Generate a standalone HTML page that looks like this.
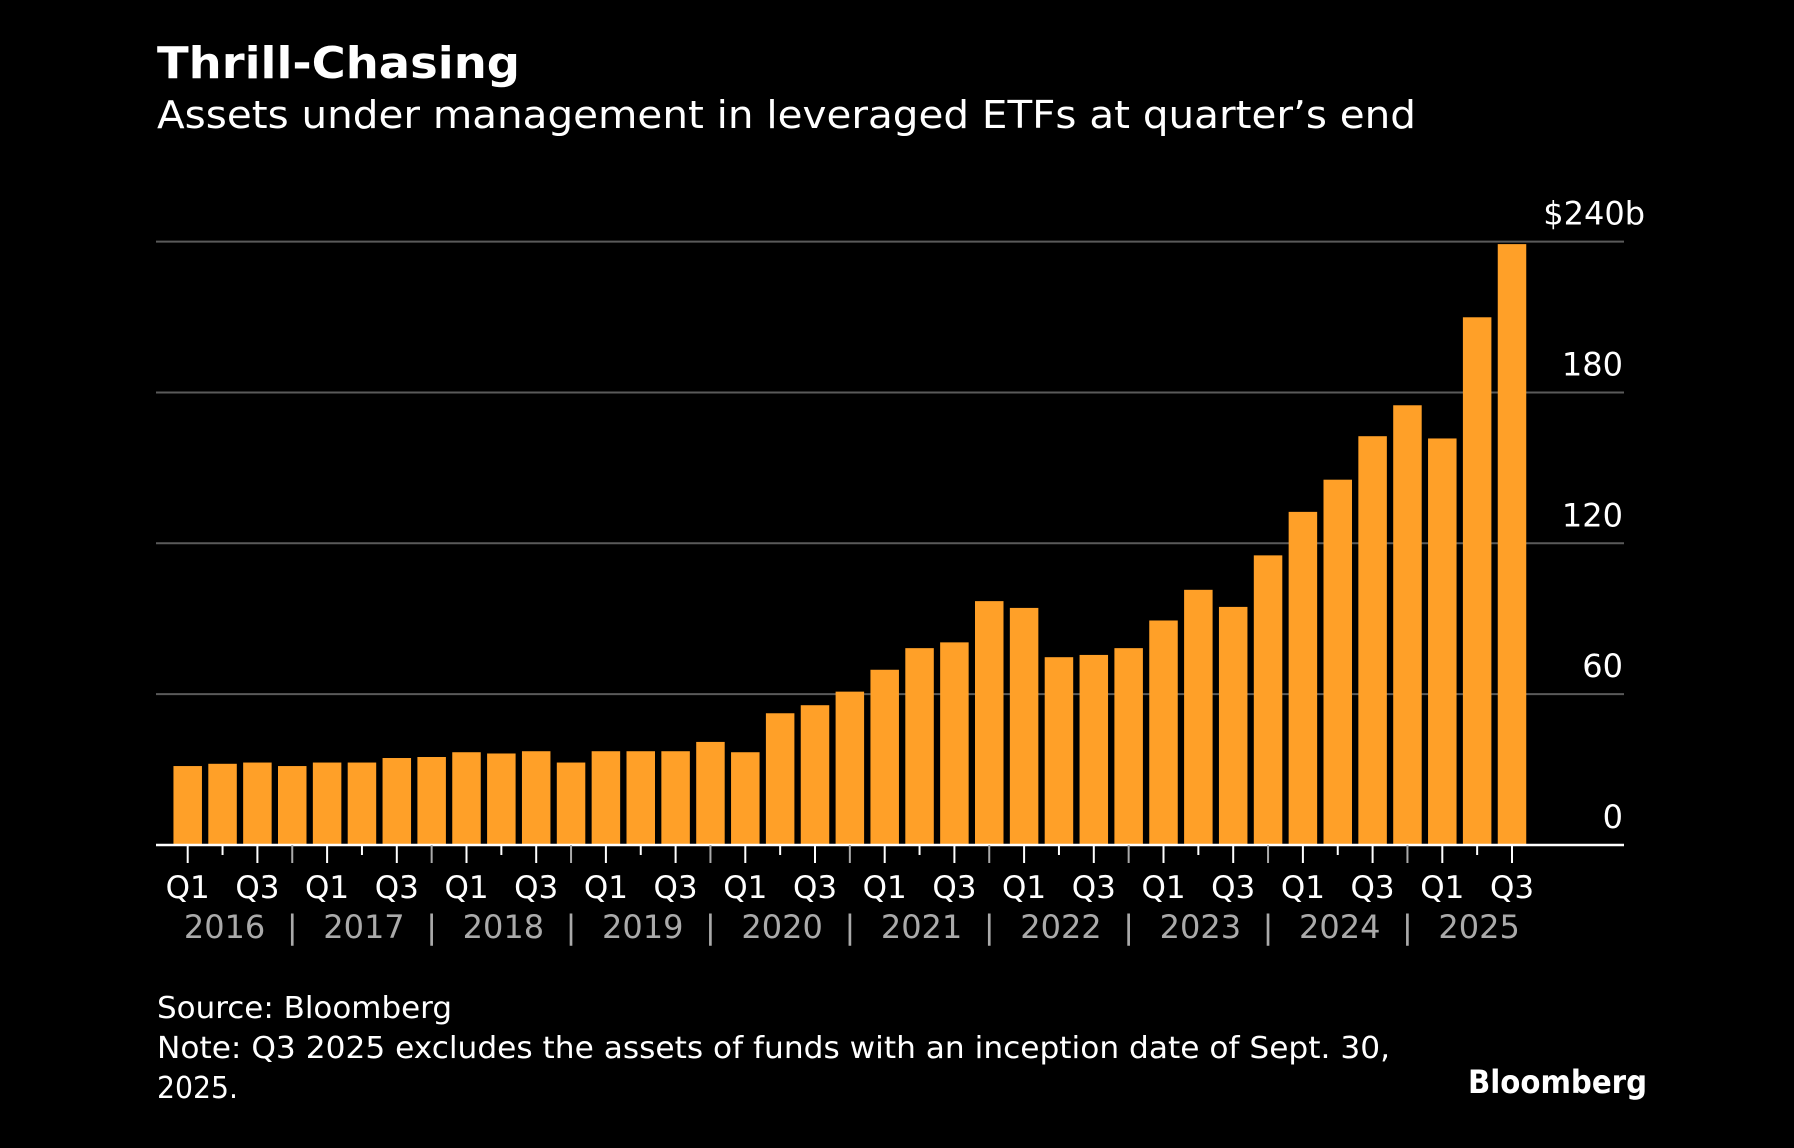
<!DOCTYPE html>
<html><head><meta charset="utf-8"><style>
html,body{margin:0;padding:0;background:#000;}
svg{display:block;}
text{font-family:"DejaVu Sans","Liberation Sans",sans-serif;}
</style></head><body>
<svg id="chart" width="1794" height="1148" viewBox="0 0 1794 1148" xmlns="http://www.w3.org/2000/svg">
<rect width="1794" height="1148" fill="#000"/>
<text x="157" y="78" fill="#fff" font-weight="bold" font-size="44" textLength="363" lengthAdjust="spacingAndGlyphs">Thrill-Chasing</text>
<text x="157" y="128" fill="#fff" font-size="38" textLength="1259" lengthAdjust="spacingAndGlyphs">Assets under management in leveraged ETFs at quarter’s end</text>
<g id="grid"></g>
<g id="bars"></g>
<g id="xaxis"></g>
<text x="157" y="1018" fill="#fff" font-size="30" textLength="295" lengthAdjust="spacingAndGlyphs">Source: Bloomberg</text>
<text x="157" y="1058" fill="#fff" font-size="30" textLength="1233" lengthAdjust="spacingAndGlyphs">Note: Q3 2025 excludes the assets of funds with an inception date of Sept. 30,</text>
<text x="157" y="1098" fill="#fff" font-size="30" textLength="81" lengthAdjust="spacingAndGlyphs">2025.</text>
<text x="1468" y="1093" fill="#fff" font-weight="bold" font-size="32" textLength="179" lengthAdjust="spacingAndGlyphs">Bloomberg</text>
</svg>
<script>
const quarters = ["Q1","Q2","Q3","Q4"];
const years = ["2016","2017","2018","2019","2020","2021","2022","2023","2024","2025"];
const values = [31.4,32.3,32.8,31.4,32.8,32.8,34.6,35,36.9,36.4,37.3,32.8,37.3,37.3,37.3,41,36.9,52.4,55.6,61,69.7,78.3,80.6,97,94.3,74.7,75.6,78.3,89.3,101.5,94.7,115.2,132.5,145.3,162.6,174.9,161.7,209.9,239];
const yTicks = [0,60,120,180,240];
const yTickLabels = ["0","60","120","180","$240b"];

const NS = "http://www.w3.org/2000/svg";
const baseY = 845, topY = 241.6, yMax = 240;
const x0 = 187.7, pitch = 34.85, barW = 28.5;
const gridL = 156, gridR = 1624;
function yScale(v){ return baseY - (v / yMax) * (baseY - topY); }
function xScale(i){ return x0 + i * pitch; }
function mk(tag, attrs, parent){ const e = document.createElementNS(NS, tag); for (const k in attrs) e.setAttribute(k, attrs[k]); parent.appendChild(e); return e; }

const grid = document.getElementById('grid');
yTicks.forEach((t, i) => {
  if (t !== 0) {
    const l = mk('line', {x1: gridL, x2: gridR, y1: yScale(t), y2: yScale(t), stroke: '#5a5a5a', 'stroke-width': 2}, grid);
    
    
  }
  const isTop = i === yTicks.length - 1;
  const tx = mk('text', {x: isTop ? 1645 : 1623, y: yScale(t) - 17, fill: '#fff', 'font-size': 32, 'text-anchor': 'end'}, grid);
  tx.textContent = yTickLabels[i];
  
  
});

const bars = document.getElementById('bars');
values.forEach((v, i) => {
  const r = mk('rect', {x: xScale(i) - barW / 2, y: yScale(v), width: barW, height: baseY - yScale(v), fill: '#ffa028'}, bars);
  
  
});

const xa = document.getElementById('xaxis');
const base = mk('line', {x1: gridL, x2: gridR, y1: baseY, y2: baseY, stroke: '#fff', 'stroke-width': 2.5}, xa);


values.forEach((v, i) => {
  const q = i % 4;
  const len = q === 1 ? 10 : 18;
  const t = mk('line', {x1: xScale(i), x2: xScale(i), y1: baseY, y2: baseY + len, stroke: q === 3 ? '#aaa' : '#fff', 'stroke-width': 2}, xa);
  
  
  if (q === 0 || q === 2) {
    const lb = mk('text', {x: xScale(i), y: 898, fill: '#fff', 'font-size': 31, 'text-anchor': 'middle'}, xa);
    lb.textContent = quarters[q];
    
    
  }
  if (q === 3) {
    const sp = mk('text', {x: xScale(i), y: 938, fill: '#aaa', 'font-size': 32, 'text-anchor': 'middle'}, xa);
    sp.textContent = '|';
    
    
  }
});
years.forEach((yr, k) => {
  const yl = mk('text', {x: xScale(k * 4 + 1) + 2, y: 938, fill: '#aaa', 'font-size': 32, 'text-anchor': 'middle'}, xa);
  yl.textContent = yr;
  
  
});
</script>
</body></html>
